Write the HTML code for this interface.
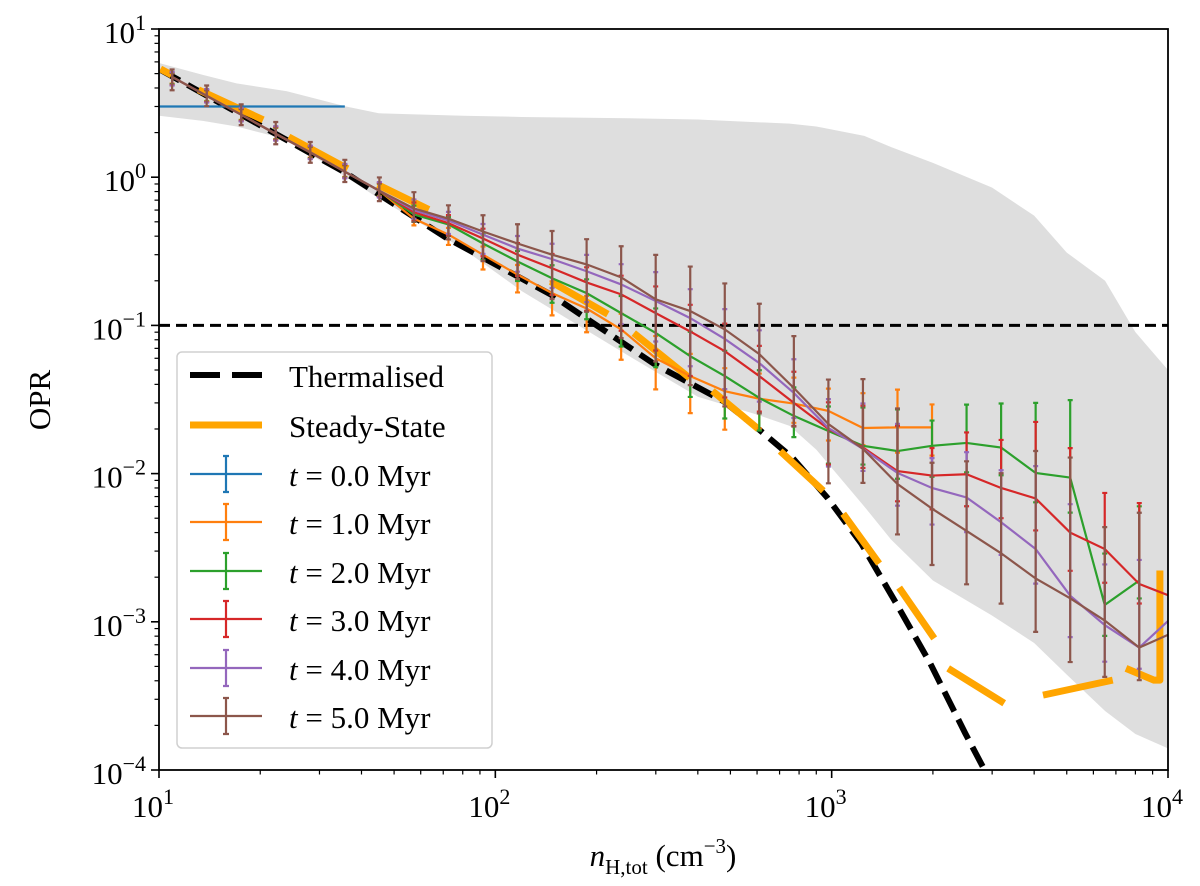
<!DOCTYPE html>
<html><head><meta charset="utf-8">
<style>
html,body{margin:0;padding:0;background:#fff;}
svg{display:block;}
text{font-family:"Liberation Serif","DejaVu Serif",serif;fill:#000;}
</style></head>
<body>
<svg id="chart" width="1200" height="886" viewBox="0 0 1200 886" xmlns="http://www.w3.org/2000/svg">
<defs><clipPath id="plotclip"><rect x="159" y="29" width="1009" height="741"/></clipPath></defs>
<g id="band" clip-path="url(#plotclip)"></g>
<g id="marks" clip-path="url(#plotclip)"></g>
<g id="axes"></g>
<g id="legend"></g>
</svg>
<script>
// ---- data ----
const xStart = 1.039;   // log10 of first bin density
const xStep = 0.1027;   // log spacing of bins
const seriesNames = ["t = 0.0 Myr","t = 1.0 Myr","t = 2.0 Myr","t = 3.0 Myr","t = 4.0 Myr","t = 5.0 Myr"];
const trunk = [4.75,3.54,2.64,1.96,1.47,1.09,0.81];
const t0 = [3.0,3.0,3.0,3.0,3.0,3.0];
const t1 = trunk.concat([0.525,0.41,0.30,0.22,0.165,0.13,0.094,0.060,0.0455,0.036,0.032,0.0297,0.0265,0.0203,0.0205,0.0205]);
const t2 = trunk.concat([0.56,0.48,0.357,0.27,0.208,0.165,0.121,0.089,0.062,0.0455,0.0324,0.0245,0.0194,0.0154,0.0142,0.0154,0.0161,0.015,0.0101,0.0094,0.0013,0.0019]);
const t3 = trunk.concat([0.58,0.49,0.386,0.30,0.243,0.195,0.162,0.121,0.091,0.067,0.0455,0.030,0.020,0.015,0.0104,0.0097,0.0099,0.008,0.0068,0.004,0.0031,0.0018,0.00146]);
const t4 = trunk.concat([0.60,0.51,0.41,0.33,0.28,0.232,0.189,0.146,0.112,0.081,0.0557,0.035,0.0203,0.0147,0.0101,0.008,0.0069,0.0047,0.0031,0.0015,0.00095,0.00067,0.0011]);
const t5 = trunk.concat([0.615,0.525,0.43,0.357,0.30,0.258,0.211,0.15,0.125,0.094,0.064,0.0378,0.0216,0.0147,0.0085,0.0058,0.0041,0.0029,0.00196,0.00144,0.00102,0.00067,0.00085]);
// error bar extents in dex (up, down)
const errHi = [0.05,0.07,0.07,0.08,0.07,0.08,0.09,0.11,0.09,0.11,0.13,0.16,0.17,0.21,0.3,0.3,0.31,0.34,0.35,0.3,0.47,0.51,0.31,0.47,0.54,0.86,0.95,0.63,0.91,0.9];
const errLo = [0.09,0.07,0.07,0.07,0.07,0.07,0.07,0.09,0.14,0.2,0.24,0.3,0.32,0.41,0.42,0.5,0.52,0.4,0.26,0.4,0.23,0.34,0.38,0.36,0.34,0.36,0.43,0.38,0.22,0.3];
const errScale = [0,0.5,0.55,0.6,0.65,1];
const bandX = [10,13.5,17,24,36,45,80,120,250,400,600,750,900,1250,1500,2000,3000,4000,5000,6500,8000,10000];
const bandHi = [5.9,4.9,4.3,3.8,3.0,2.7,2.6,2.55,2.5,2.45,2.35,2.3,2.2,1.9,1.6,1.25,0.85,0.55,0.31,0.2,0.09,0.05];
const bandLo = [2.6,2.4,2.2,1.8,1.0,0.72,0.33,0.17,0.062,0.033,0.025,0.021,0.0145,0.006,0.0036,0.0019,0.0011,0.00072,0.00044,0.00025,0.000175,0.00014];
const thermX = [10.1,35.4,71.1,145.9,297,476,601,764,971,1225,1556,1963,2495,3170];
const thermY = [5.3,1.09,0.393,0.162,0.0548,0.0309,0.0203,0.0128,0.00687,0.00337,0.00133,0.000525,0.000177,0.000063];
const ssX = [10.1,10.9,null,13.1,20.4,null,24.3,36.4,null,44.7,63.4,null,146,216,null,258,378,null,442,605,null,703,944,null,1082,1384,null,1587,2018,null,2220,3258,null,4250,6850,null,7500,9080,9460,9460];
const ssY = [5.38,4.9,null,3.89,2.44,null,1.87,1.14,null,0.891,0.605,null,0.198,0.119,null,0.0887,0.0442,null,0.0361,0.020,null,0.0142,0.00765,null,0.00536,0.00247,null,0.0017,0.000773,null,0.000485,0.000282,null,0.00032,0.000404,null,0.000485,0.000404,0.000404,0.00222];
const xTicks = [1,2,3,4];
const yTicks = [1,0,-1,-2,-3,-4];
const hlineValue = 0.1;

// ---- scales ----
const L=159,R=1168,T=29,B=770;
function sx(v){return L+(Math.log10(v)-1)/3*(R-L);}
function sy(v){return T+(1-Math.log10(v))/5*(B-T);}
const NS="http://www.w3.org/2000/svg";
function mk(tag,attrs,parent){const e=document.createElementNS(NS,tag);for(const k in attrs)e.setAttribute(k,attrs[k]);parent.appendChild(e);return e;}
const band=document.getElementById('band'),marks=document.getElementById('marks'),axes=document.getElementById('axes'),legend=document.getElementById('legend');

// band
let bp=bandX.map((x,i)=>sx(x)+','+sy(bandHi[i]));
bp=bp.concat(bandX.slice().reverse().map((x,i)=>sx(x)+','+sy(bandLo[bandX.length-1-i])));
const bandPoly=mk('polygon',{points:bp.join(' '),fill:'#dedede',stroke:'none'},band);



// thermalised
const th=mk('polyline',{points:thermX.map((x,i)=>sx(x)+','+sy(thermY[i])).join(' '),fill:'none',stroke:'#000','stroke-width':6,'stroke-dasharray':'22,9'},marks);



// steady-state
let d='',pen=false;
ssX.forEach((x,i)=>{if(x===null){pen=false;return;}d+=(pen?'L':'M')+sx(x)+','+sy(ssY[i])+' ';pen=true;});
const ss=mk('path',{d:d,fill:'none',stroke:'#ffa500','stroke-width':7,'stroke-linejoin':'round'},marks);



// hline
const hl=mk('line',{x1:L,x2:R,y1:sy(hlineValue),y2:sy(hlineValue),stroke:'#000','stroke-width':3,'stroke-dasharray':'11,6'},marks);



// series
const seriesData=[t0,t1,t2,t3,t4,t5];
const colors=['#1f77b4','#ff7f0e','#2ca02c','#d62728','#9467bd','#8c564b'];
seriesData.forEach((vals,s)=>{
  const g=mk('g',{},marks);
  
  
  if(s>0){
    vals.forEach((v,k)=>{
      const x=sx(Math.pow(10,xStart+xStep*k));
      const y1=sy(v*Math.pow(10,errHi[k]*errScale[s])),y2=sy(v/Math.pow(10,errLo[k]*errScale[s]));
      const eb=mk('path',{d:`M${x},${y1}L${x},${y2}M${x-2.5},${y1}L${x+2.5},${y1}M${x-2.5},${y2}L${x+2.5},${y2}`,stroke:colors[s],'stroke-width':2.2,fill:'none'},g);
      
      
    });
  }
  const pts=vals.map((v,k)=>sx(Math.pow(10,xStart+xStep*k))+','+sy(v));
  if(s===0){pts[0]=L+','+sy(vals[0]);}
  const ln=mk('polyline',{points:pts.join(' '),fill:'none',stroke:colors[s],'stroke-width':2.2},g);
  
  
});

// axes frame
const fr=mk('rect',{x:L,y:T,width:R-L,height:B-T,fill:'none',stroke:'#000','stroke-width':1.8},axes);


// x ticks
for(let dec=1;dec<=4;dec++){
  for(let m=1;m<10;m++){
    if(dec===4&&m>1)break;
    const v=m*Math.pow(10,dec);const x=sx(v);const len=m===1?8:4.5;
    const tk=mk('line',{x1:x,x2:x,y1:B,y2:B+len,stroke:'#000','stroke-width':m===1?1.6:1.2},axes);
    
    
  }
}
xTicks.forEach(p=>{
  const t=mk('text',{x:sx(Math.pow(10,p))-6,y:817,'font-size':31,'text-anchor':'middle'},axes);
  
  
  t.innerHTML='10<tspan dy="-13" font-size="22">'+p+'</tspan>';
});
for(let dec=-4;dec<=1;dec++){
  for(let m=1;m<10;m++){
    if(dec===1&&m>1)break;
    const v=m*Math.pow(10,dec);const y=sy(v);const len=m===1?8:4.5;
    const tk=mk('line',{x1:L-len,x2:L,y1:y,y2:y,stroke:'#000','stroke-width':m===1?1.6:1.2},axes);
    
    
  }
}
yTicks.forEach(p=>{
  const t=mk('text',{x:146,y:sy(Math.pow(10,p))+14,'font-size':31,'text-anchor':'end'},axes);
  
  
  t.innerHTML='10<tspan dy="-13" font-size="22">'+(p<0?'\u2212'+(-p):p)+'</tspan>';
});
const xl=mk('text',{x:663,y:866,'font-size':31,'text-anchor':'middle'},axes);


xl.innerHTML='<tspan font-style="italic">n</tspan><tspan font-size="21" dy="8">H,tot</tspan><tspan dy="-8"> (cm</tspan><tspan dy="-13" font-size="21">\u22123</tspan><tspan dy="13">)</tspan>';
const yl=mk('text',{x:0,y:0,'font-size':31,'text-anchor':'middle',transform:'translate(50,400) rotate(-90)'},axes);


yl.textContent='OPR';

// legend
const lb=mk('rect',{x:177,y:352,width:315,height:396,rx:5,fill:'#fff','fill-opacity':0.85,stroke:'#d0d0d0','stroke-width':1.5},legend);


const legLabels=['Thermalised','Steady-State'].concat(seriesNames);
const legY=[375,425,474,522,571,619,668,716];
legLabels.forEach((lab,i)=>{
  const g=mk('g',{},legend);
  
  
  const y=legY[i];
  if(i===0){mk('line',{x1:190,x2:262,y1:y,y2:y,stroke:'#000','stroke-width':6,'stroke-dasharray':'30,12'},g);}
  else if(i===1){mk('line',{x1:190,x2:262,y1:y,y2:y,stroke:'#ffa500','stroke-width':7},g);}
  else{const c=colors[i-2];
    mk('line',{x1:190,x2:262,y1:y,y2:y,stroke:c,'stroke-width':2.2},g);
    mk('path',{d:`M226,${y-18}L226,${y+18}M223,${y-18}L229,${y-18}M223,${y+18}L229,${y+18}`,stroke:c,'stroke-width':2.2,fill:'none'},g);}
  const t=mk('text',{x:289,y:y+12,'font-size':31},g);
  if(i<2){t.textContent=lab;}
  else{t.innerHTML='<tspan font-style="italic">t</tspan> = '+lab.slice(4);}
});
</script>
</body></html>
